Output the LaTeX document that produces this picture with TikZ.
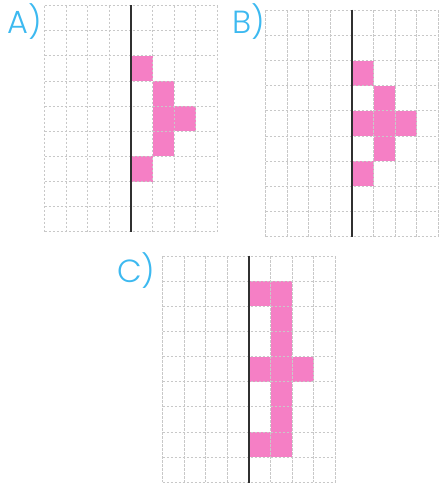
\documentclass[tikz,border=0pt]{standalone}
\usepackage{fontspec}
\newfontfamily\labfont{Poppins Light}
\definecolor{pinkc}{HTML}{F57FC5}
\definecolor{bluec}{HTML}{3DB9F0}
\definecolor{gridc}{HTML}{C8C8C8}
\definecolor{axisc}{HTML}{303030}
\tikzset{
  gridl/.style={draw=gridc, line width=0.9pt, dash pattern=on 2.5pt off 1.5pt},
  axisl/.style={draw=axisc, line width=1.8pt},
  cellfill/.style={fill=pinkc},
  lab/.style={text=bluec, font=\labfont\fontsize{32}{32}\selectfont, inner sep=0pt, anchor=base west},
}
\newcommand\mygrid[3]{%
  \begin{scope}[shift={(#1,#2)}]
    \foreach \c/\r in {#3} \fill[cellfill] (\c*21.6,\r*25.15) rectangle ++(21.6,25.15);
    \foreach \i in {0,...,8} \draw[gridl] (\i*21.6,0) -- (\i*21.6,226.35);
    \foreach \j in {0,...,9} \draw[gridl] (0,\j*25.15) -- (172.8,\j*25.15);
    \draw[axisl] (86.4,-0.5) -- (86.4,226.85);
  \end{scope}}
\begin{document}
\begin{tikzpicture}[x=1pt,y=-1pt]
  \useasboundingbox (0,0) rectangle (439,483);
  \mygrid{44.5}{5.5}{4/2,5/3,5/4,6/4,5/5,4/6}
  \mygrid{265.6}{10.2}{4/2,5/3,4/4,5/4,6/4,5/5,4/6}
  \mygrid{162.6}{256}{4/1,5/1,5/2,5/3,4/4,5/4,6/4,5/5,5/6,4/7,5/7}
  \node[lab] (la) at (7,33) {A)};
  \node[lab] (lb) at (232,33) {B)};
  \node[lab] (lc) at (117,282) {C)};
\end{tikzpicture}
\end{document}
